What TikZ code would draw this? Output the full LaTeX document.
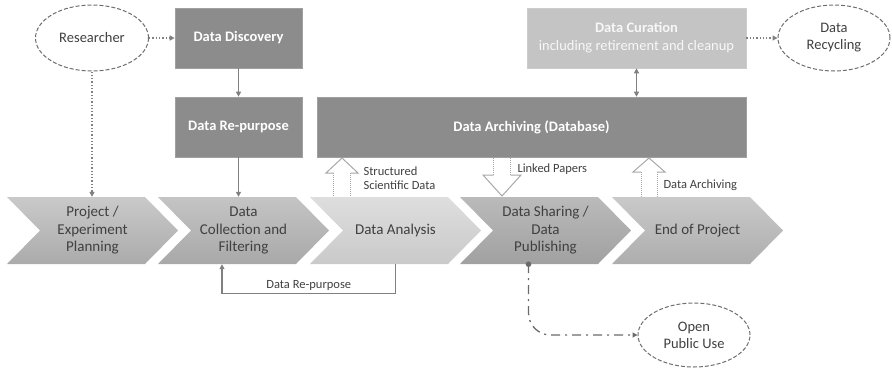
\documentclass[tikz,border=0pt]{standalone}
\usepackage{fontspec}
\setmainfont{Carlito}
\usetikzlibrary{arrows.meta,shapes.geometric,calc}
\definecolor{textdark}{HTML}{404040}
\definecolor{boxdark}{HTML}{8C8C8C}
\definecolor{boxedge}{HTML}{A0A0A0}
\definecolor{curcol}{HTML}{C4C4C4}
\definecolor{curtext}{HTML}{F7F7F7}
\definecolor{conncol}{HTML}{808080}
\definecolor{ellcol}{HTML}{6E6E6E}
\definecolor{hollowcol}{HTML}{A8A8A8}
\definecolor{dashcol}{HTML}{6A6A6A}
\newcommand\chevshape[3]{%
  \path[top color=#2, bottom color=#3] (#1,197) -- ++(138,0) -- ++(33,33.5) -- ++(-33,33.5) -- ++(-138,0) -- ++(33,-33.5) -- cycle;}
\begin{document}
\begin{tikzpicture}[x=1pt,y=-1pt,
  lbl/.style={font=\fontsize{12.5}{14}\selectfont, text=textdark},
  boxd/.style={fill=boxdark, draw=boxedge, line width=0.6, text=white, font=\bfseries\fontsize{14.5}{17}\selectfont, inner sep=0, minimum height=60, align=center},
  ell/.style={ellipse, draw=ellcol, dash pattern=on 4pt off 2pt, line width=1, fill=white, text=textdark, font=\fontsize{14.5}{17}\selectfont, align=center, inner sep=0, minimum width=113, minimum height=66},
  chevtext/.style={inner sep=0, minimum width=171, minimum height=67, text=textdark, font=\fontsize{15}{17.5}\selectfont, align=center},
  tip/.style={-{Triangle[length=5pt,width=5pt]}},
  conn/.style={draw=conncol, line width=1.5, tip},
  dotconn/.style={draw=conncol, line width=1.3, dotted, tip},
  hollow/.style={draw=hollowcol, line width=1},
  dashdot/.style={draw=dashcol, line width=1.3, dash pattern=on 9pt off 5pt on 2pt off 5pt, rounded corners=22, tip}
]
\useasboundingbox (0,0) rectangle (892,368);

% chevrons
\chevshape{7}{black!21}{black!33}
\chevshape{158}{black!23}{black!34}
\chevshape{310}{black!13}{black!21}
\chevshape{460}{black!27}{black!37}
\chevshape{612}{black!21}{black!32}
\node[chevtext] (c1) at (92.5,230.5) {Project /\\Experiment\\Planning};
\node[chevtext] (c2) at (243.5,230.5) {Data\\Collection and\\Filtering};
\node[chevtext] (c3) at (395.5,230.5) {Data Analysis};
\node[chevtext] (c4) at (545.5,230.5) {Data Sharing /\\Data\\Publishing};
\node[chevtext] (c5) at (697.5,230.5) {End of Project};

% boxes
\node[boxd, minimum width=127] (disc) at (238.5,38) {Data Discovery};
\node[boxd, minimum width=127] (repu) at (238.5,127) {Data Re-purpose};
\node[boxd, minimum width=429] (arch) at (531.5,127) {Data Archiving (Database)};
\node[boxd, fill=curcol, draw=black!20, text=curtext, font=\fontsize{14.5}{18}\selectfont, minimum width=219] (cur) at (636.5,38) {\textbf{Data Curation}\\including retirement and cleanup};

% ellipses
\node[ell] (res) at (92,38) {Researcher};
\node[ell, minimum width=112] (recy) at (834,38) {Data\\Recycling};
\node[ell, minimum width=112, minimum height=64] (pub) at (694,335) {Open\\Public Use};

% connectors
\draw[dotconn] (res) -- (disc);
\draw[dotconn] (res.south) -- (res.south |- c1.north);
\draw[conn] (disc) -- (repu);
\draw[conn] (repu) -- (repu |- c2.north);
\draw[conn, line width=1.3, {Triangle[length=5pt,width=5pt]}-{Triangle[length=5pt,width=5pt]}] (cur) -- (cur |- arch.north);
\draw[dotconn] (cur) -- (recy);
\draw[conn, line width=1.2] (c3.south) -- ++(0,29) -| node[pos=0.25, above, lbl, inner sep=2.5pt] {Data Re-purpose} ([xshift=-21.5pt]c2.south);

% dash-dot to public use
\fill[dashcol] ([xshift=-17pt]c4.south) circle (2.8);
\draw[dashdot] ([xshift=-17pt]c4.south) |- (pub.west);

% hollow arrows
\draw[hollow] (333.5,173) -- (326,173) -- (342,158) -- (358,173) -- (350.5,173);
\draw[hollow, densely dotted] (333.5,173) -- (333.5,197) (350.5,173) -- (350.5,197);
\draw[hollow] (493.5,175) -- (483,175) -- (502,196) -- (521,175) -- (510.5,175);
\draw[hollow, densely dotted] (493.5,158) -- (493.5,175) (510.5,158) -- (510.5,175);
\draw[hollow] (641,172) -- (633,172) -- (649,158) -- (665,172) -- (657,172);
\draw[hollow, densely dotted] (641,172) -- (641,197) (657,172) -- (657,197);

% labels
\node[lbl, anchor=west, align=left] (lss) at (360,178) {Structured\\Scientific Data};
\node[lbl, anchor=west] (llp) at (514,169) {Linked Papers};
\node[lbl, anchor=west] (lda) at (660,185) {Data Archiving};
\end{tikzpicture}
\end{document}
